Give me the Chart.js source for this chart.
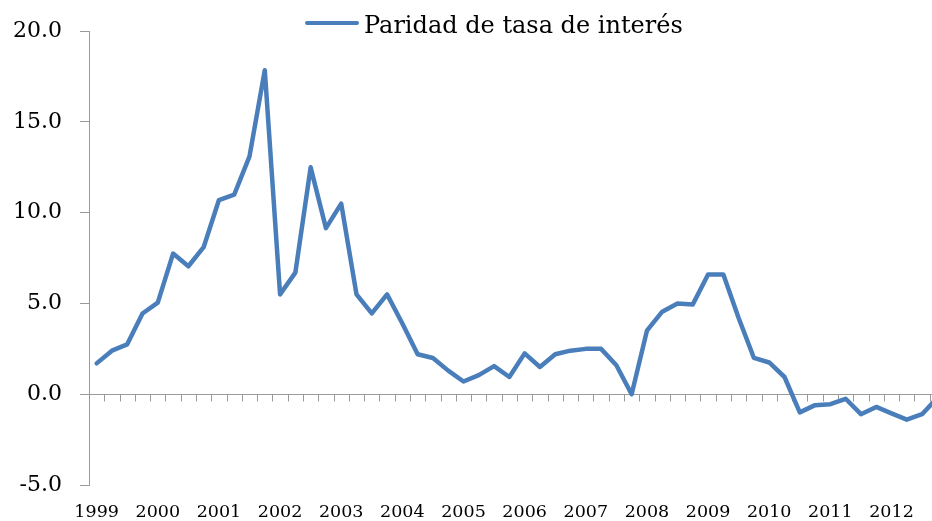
<!DOCTYPE html>
<html>
<head>
<meta charset="utf-8">
<script src="https://cdn.jsdelivr.net/npm/chart.js@4.4.1/dist/chart.umd.min.js"></script>
<style>
  html, body { margin: 0; padding: 0; background: #fff; overflow: hidden; }
  #wrap { position: relative; width: 992px; height: 521px; }
  #legendLine { position: absolute; left: 305px; top: 20.5px; width: 54px; height: 4.5px; border-radius: 2px; background: #4A7EBB; }
  #legendText { position: absolute; left: 364px; top: 11px; font-family: "DejaVu Serif", serif; font-size: 24px; line-height: normal; color: #000; white-space: nowrap; }
</style>
</head>
<body>
<div id="wrap">
  <canvas id="c" width="992" height="521"></canvas>
  <div id="legendLine"></div>
  <div id="legendText"></div>
</div>
<script>
// ---- data ----
const seriesLabel = "Paridad de tasa de interés";
const years = [1999, 2000, 2001, 2002, 2003, 2004, 2005, 2006, 2007, 2008, 2009, 2010, 2011, 2012];
const quarters = ["T1", "T2", "T3", "T4"];
const categories = years.flatMap(y => quarters.map(q => y + " " + q));
const yearTickLabels = years.map(String);
const paridad = [
  1.7, 2.4, 2.75, 4.45,      // 1999
  5.05, 7.75, 7.05, 8.1,     // 2000
  10.7, 11.0, 13.1, 17.85,   // 2001
  5.5, 6.7, 12.5, 9.15,      // 2002
  10.5, 5.5, 4.45, 5.5,      // 2003
  3.9, 2.2, 2.0, 1.3,        // 2004
  0.7, 1.05, 1.55, 0.95,     // 2005
  2.25, 1.5, 2.2, 2.4,       // 2006
  2.5, 2.5, 1.6, 0.0,        // 2007
  3.5, 4.55, 5.0, 4.95,      // 2008
  6.6, 6.6, 4.2, 2.0,        // 2009
  1.75, 0.95, -1.0, -0.6,    // 2010
  -0.55, -0.25, -1.1, -0.7,  // 2011
  -1.05, -1.4, -1.1, -0.2    // 2012
];
const yMin = -5, yMax = 20, yStep = 5;

const axisGrey = '#9a9a9a';
const lineBlue = '#4A7EBB';

document.getElementById('legendText').textContent = seriesLabel;

const quarterTicks = {
  id: 'quarterTicks',
  beforeDatasetsDraw(chart) {
    const xs = chart.scales.x, ys = chart.scales.y, ctx = chart.ctx;
    const y0 = Math.round(ys.getPixelForValue(0)) + 0.5;
    ctx.save();
    ctx.strokeStyle = axisGrey;
    ctx.lineWidth = 1;
    ctx.beginPath();
    for (let i = 1; i <= categories.length; i++) {
      const px = Math.round(xs.getPixelForValue(i - 0.5)) + 0.5;
      ctx.moveTo(px, y0);
      ctx.lineTo(px, y0 + 7);
    }
    ctx.stroke();
    ctx.restore();
  }
};

new Chart(document.getElementById('c'), {
  type: 'line',
  data: {
    labels: categories,
    datasets: [{
      label: seriesLabel,
      data: paridad,
      borderColor: lineBlue,
      backgroundColor: lineBlue,
      borderWidth: 4.5,
      pointRadius: 0,
      tension: 0,
      borderCapStyle: 'round',
      borderJoinStyle: 'round',
      fill: false
    }]
  },
  options: {
    responsive: false,
    animation: false,
    layout: { padding: { top: 29, right: 47, bottom: 0, left: 0 } },
    plugins: { legend: { display: false }, tooltip: { enabled: false } },
    scales: {
      x: {
        type: 'category',
        offset: true,
        grid: { display: false, drawTicks: false },
        border: { display: false },
        ticks: {
          autoSkip: false, maxRotation: 0, minRotation: 0,
          padding: 17,
          color: '#000',
          font: { family: 'DejaVu Serif', size: 17.5 },
          callback: (v, i) => (i % 4 === 0 ? yearTickLabels[i / 4] : '')
        },
        afterFit: s => { s.height = 36; }
      },
      y: {
        min: yMin, max: yMax,
        grid: {
          drawTicks: true, tickLength: 9, tickColor: axisGrey,
          color: c => (c.tick && c.tick.value === 0 ? axisGrey : 'rgba(0,0,0,0)'),
          lineWidth: 1
        },
        border: { display: true, color: axisGrey, width: 1 },
        ticks: {
          stepSize: yStep,
          padding: 18,
          color: '#000',
          font: { family: 'DejaVu Serif', size: 22 },
          callback: v => Number(v).toFixed(1)
        },
        afterFit: s => { s.width = 89; }
      }
    }
  },
  plugins: [quarterTicks]
});
</script>
</body>
</html>
